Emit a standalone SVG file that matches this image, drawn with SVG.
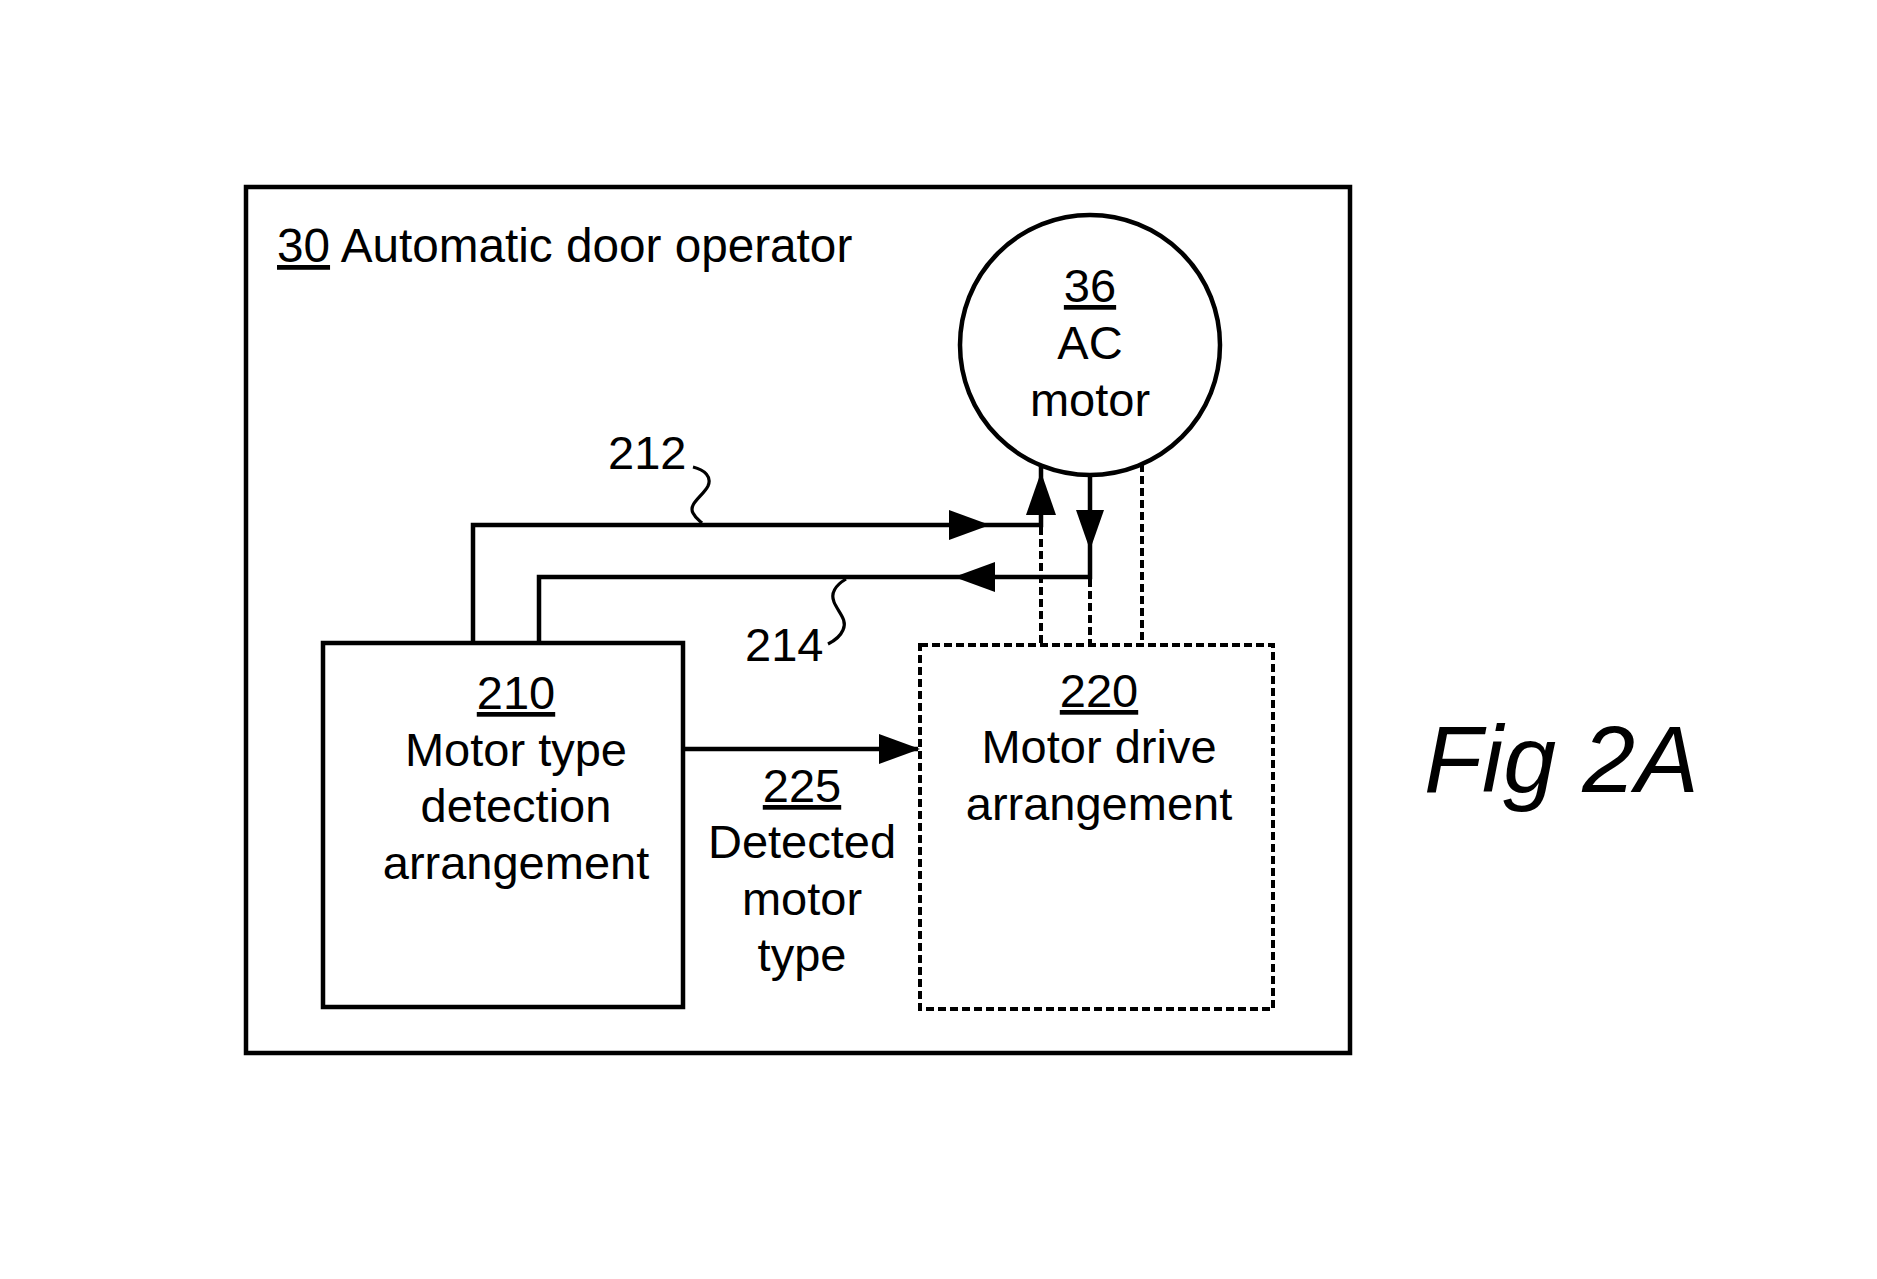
<svg xmlns="http://www.w3.org/2000/svg" width="1877" height="1279" viewBox="0 0 1877 1279">
<style>
  text { font-family: "Liberation Sans", Arial, sans-serif; font-size: 47px; fill: #000; }
  .c { text-anchor: middle; }
  .u { text-decoration: underline; }
  .box { fill: none; stroke: #000; stroke-width: 4.5; }
  .dash { fill: none; stroke: #000; stroke-width: 4; stroke-dasharray: 8 4; }
  .ln { fill: none; stroke: #000; stroke-width: 4.5; }
  .thin { fill: none; stroke: #000; stroke-width: 3.2; }
  .ah { fill: #000; stroke: none; }
  .fig { font-size: 95px; font-style: italic; }
</style>
<rect width="1877" height="1279" fill="#fff"/>

<g id="n30">
  <rect class="box" x="246" y="187" width="1104" height="866"/>
  <text x="277" y="262" style="font-size:47.7px"><tspan class="u">30</tspan> Automatic door operator</text>
</g>

<g id="n36">
  <circle class="box" cx="1090" cy="345" r="130"/>
  <text class="c" x="1090" y="302"><tspan class="u">36</tspan></text>
  <text class="c" x="1090" y="359">AC</text>
  <text class="c" x="1090" y="416">motor</text>
</g>

<g id="n210">
  <rect class="box" x="323" y="643" width="360" height="364"/>
  <text class="c" x="516" y="709"><tspan class="u">210</tspan></text>
  <text class="c" x="516" y="766">Motor type</text>
  <text class="c" x="516" y="822">detection</text>
  <text class="c" x="516" y="879">arrangement</text>
</g>

<g id="n220">
  <rect class="dash" x="920" y="645" width="353" height="364"/>
  <text class="c" x="1099" y="707"><tspan class="u">220</tspan></text>
  <text class="c" x="1099" y="763">Motor drive</text>
  <text class="c" x="1099" y="820">arrangement</text>
</g>

<g id="connectors">
  <path class="ln" d="M473,643 V525 H1041 V466"/>
  <polygon class="ah" points="949,510 990,525 949,540"/>
  <polygon class="ah" points="1026,515 1041,472 1056,515"/>
  <path class="ln" d="M539,643 V577 H1090 V475"/>
  <polygon class="ah" points="995,562 954,577 995,592"/>
  <polygon class="ah" points="1076,510 1090,550 1104,510"/>
  <path class="ln" d="M683,749 H918"/>
  <polygon class="ah" points="879,734 920,749 879,764"/>
  <path class="dash" d="M1041,527 V645"/>
  <path class="dash" d="M1090,579 V645"/>
  <path class="dash" d="M1142,464 V645"/>
  <path class="thin" d="M693,467 C705,470 712,477 708,486 C703,496 688,504 693,513 C696,519 700,521 702,523"/>
  <path class="thin" d="M846,579 C836,585 830,592 834,602 C838,612 848,620 843,630 C840,637 834,641 828,644"/>
</g>

<g id="labels">
  <text x="608" y="469">212</text>
  <text x="745" y="661">214</text>
  <text class="c" x="802" y="802"><tspan class="u">225</tspan></text>
  <text class="c" x="802" y="858">Detected</text>
  <text class="c" x="802" y="915">motor</text>
  <text class="c" x="802" y="971">type</text>
  <text class="fig" x="1424" y="792">Fig 2A</text>
</g>
</svg>
